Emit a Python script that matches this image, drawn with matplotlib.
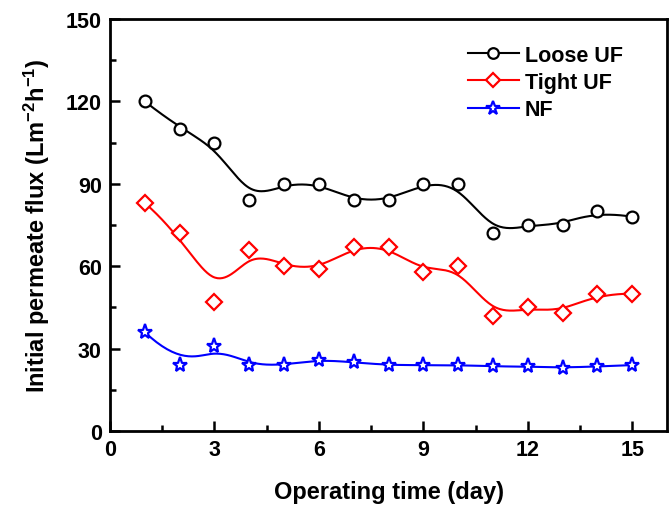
import numpy as np
import matplotlib
matplotlib.use("Agg")
import matplotlib.pyplot as plt

# operating time (day)
days = [1, 2, 3, 4, 5, 6, 7, 8, 9, 10, 11, 12, 13, 14, 15]

# initial permeate flux (L m-2 h-1)
loose_uf = [120, 110, 105, 84, 90, 90, 84, 84, 90, 90, 72, 75, 75, 80, 78]
tight_uf = [83, 72, 47, 66, 60, 59, 67, 67, 58, 60, 42, 45, 43, 50, 50]
nf = [36, 24, 31, 24, 24, 26, 25, 24, 24, 24, 23.5, 23.5, 23, 23.5, 24]

series_labels = ["Loose UF", "Tight UF", "NF"]


def bspline(x, y, k=3, num=400):
    """clamped uniform B-spline using the data as control points"""
    P = np.column_stack([x, y]).astype(float)
    n = len(P)
    knots = np.concatenate([np.zeros(k), np.linspace(0, 1, n - k + 1), np.ones(k)])
    t = np.linspace(0, 1, num)
    t[-1] = 1 - 1e-10

    def basis(i, p, t):
        if p == 0:
            return ((knots[i] <= t) & (t < knots[i + 1])).astype(float)
        out = np.zeros_like(t)
        d1 = knots[i + p] - knots[i]
        d2 = knots[i + p + 1] - knots[i + 1]
        if d1 > 0:
            out += (t - knots[i]) / d1 * basis(i, p - 1, t)
        if d2 > 0:
            out += (knots[i + p + 1] - t) / d2 * basis(i + 1, p - 1, t)
        return out

    B = np.array([basis(i, k, t) for i in range(n)])
    curve = B.T @ P
    return curve[:, 0], curve[:, 1]


plt.rcParams['font.family'] = ['Liberation Sans', 'DejaVu Sans']
plt.rcParams['font.weight'] = 'bold'
plt.rcParams['mathtext.fontset'] = 'custom'
plt.rcParams['mathtext.rm'] = 'Liberation Sans:bold'
plt.rcParams['mathtext.bf'] = 'Liberation Sans:bold'
plt.rcParams['mathtext.default'] = 'bf'

fig = plt.figure(figsize=(6.72, 5.06), dpi=100)
ax = fig.add_axes([0.1637, 0.1462, 0.8289, 0.8143])

styles = [
    dict(color='black', marker='o', ms=8.5),
    dict(color='red', marker='D', ms=8),
    dict(color='blue', marker='*', ms=11),
]

for vals, lab, st in zip([loose_uf, tight_uf, nf], series_labels, styles):
    sx, sy = bspline(days, vals)
    ax.plot(sx, sy, color=st['color'], lw=1.5)
    ax.plot(days, vals, ls='none', marker=st['marker'], ms=st['ms'],
            mfc='white', mec=st['color'], mew=1.6)
    # legend proxy
    ax.plot([], [], color=st['color'], lw=1.5, marker=st['marker'],
            ms=st['ms'] * 0.9, mfc='white', mec=st['color'], mew=1.6, label=lab)

ax.set_xlim(0, 16)
ax.set_ylim(0, 150)
ax.set_xticks([0, 3, 6, 9, 12, 15])
ax.set_xticks(np.arange(1.5, 16, 3), minor=True)
ax.set_yticks([0, 30, 60, 90, 120, 150])
ax.set_yticks(np.arange(15, 150, 30), minor=True)

ax.tick_params(which='both', direction='in', width=1.8, labelsize=15.5)
ax.tick_params(which='major', length=7, pad=6)
ax.tick_params(which='minor', length=4)
for s in ax.spines.values():
    s.set_linewidth(2)

ax.set_xlabel('Operating time (day)', fontsize=17, fontweight='bold', labelpad=14)
ax.set_ylabel('Initial permeate flux (Lm$^{-2}$h$^{-1}$)',
              fontsize=17, fontweight='bold', labelpad=10)

handles, labels = ax.get_legend_handles_labels()
ax.legend(handles, labels,
          loc='upper right', bbox_to_anchor=(0.955, 0.985), frameon=False,
          prop={'size': 15.5, 'weight': 'bold'}, handlelength=2.4,
          labelspacing=0.3, handletextpad=0.25)

fig.savefig('out.png', dpi=100)
